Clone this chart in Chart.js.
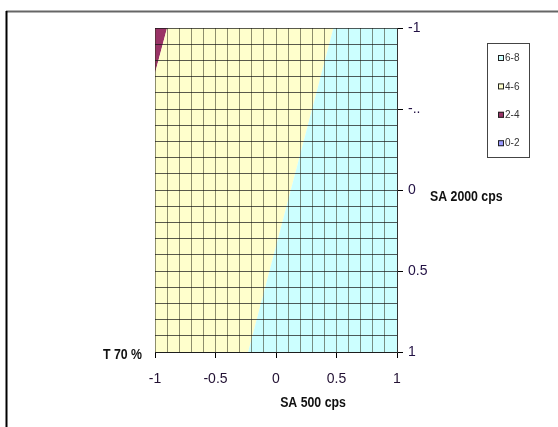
<!DOCTYPE html>
<html>
<head>
<meta charset="utf-8">
<script src="https://cdn.jsdelivr.net/npm/chart.js@4.4.1/dist/chart.umd.min.js"></script>
<style>
    html, body { margin: 0; padding: 0; background: #fff; }
    #wrap { width: 558px; height: 427px; position: relative; }
</style>
</head>
<body>
<div id="wrap"><canvas id="surfaceChart" width="558" height="427"></canvas></div>
<script>
// bands of the contour plot (SA 500 cps on x, SA 2000 cps on y)
var seriesNames = ['6-8', '4-6', '2-4', '0-2'];
var seriesColors = ['#CCFFFF', '#FFFFCC', '#993366', '#9999FF'];

var band68X = [0.475, 1, 1, -0.23];
var band68Y = [-1, -1, 1, 1];
var band46X = [-0.9, 0.475, -0.23, -1, -1];
var band46Y = [-1, -1, 1, 1, -0.72];
var band24X = [-1, -0.9, -1];
var band24Y = [-1, -1, -0.72];
var band02X = [];
var band02Y = [];

var xTicks = [-1, -0.5, 0, 0.5, 1];
var yTickLabels = {'-1': '-1', '-0.5': '-..', '0': '0', '0.5': '0.5', '1': '1'};

function toPoints(xs, ys) {
    return xs.map(function(x, i) { return {x: x, y: ys[i]}; });
}

function isMajor(v) {
    return Math.abs(v * 2 - Math.round(v * 2)) < 1e-6;
}

var bands = [
    {xs: band68X, ys: band68Y},
    {xs: band46X, ys: band46Y},
    {xs: band24X, ys: band24Y},
    {xs: band02X, ys: band02Y}
];

var datasets = bands.map(function(b, i) {
    return {
        label: seriesNames[i],
        data: toPoints(b.xs, b.ys),
        showLine: true,
        fill: 'shape',
        backgroundColor: seriesColors[i],
        borderColor: seriesColors[i],
        borderWidth: 0,
        pointRadius: 0,
        tension: 0
    };
});

// narrow text like the Excel export
function narrowText(ctx, text, x, y, align) {
    ctx.save();
    ctx.translate(x, y);
    ctx.scale(0.88, 1);
    ctx.textAlign = align;
    ctx.fillText(text, 0, 0);
    ctx.restore();
}

// texts and legend box that Excel put in fixed places
var extrasPlugin = {
    id: 'extras',
    afterDraw: function(chart) {
        var ctx = chart.ctx;
        ctx.save();
        // frame lines
        ctx.strokeStyle = '#666';
        ctx.lineWidth = 2;
        ctx.beginPath();
        ctx.moveTo(6, 11.5);
        ctx.lineTo(558, 11.5);
        ctx.stroke();
        ctx.strokeStyle = '#000';
        ctx.beginPath();
        ctx.moveTo(6.5, 11);
        ctx.lineTo(6.5, 427);
        ctx.stroke();

        ctx.fillStyle = '#111';
        ctx.font = 'bold 14px "Liberation Sans", Arial, sans-serif';
        ctx.textBaseline = 'middle';
        narrowText(ctx, 'SA 500 cps', 313, 403, 'center');
        narrowText(ctx, 'SA 2000 cps', 430, 197, 'left');
        narrowText(ctx, 'T 70 %', 103, 355, 'left');

        // legend
        ctx.strokeStyle = '#444';
        ctx.lineWidth = 1;
        ctx.strokeRect(487.5, 43.5, 42, 114);
        ctx.font = '10px "Liberation Sans", Arial, sans-serif';
        ctx.textAlign = 'left';
        seriesNames.forEach(function(name, i) {
            var y = 58 + i * 28.4;
            ctx.fillStyle = seriesColors[i];
            ctx.fillRect(498, y - 3, 6, 6);
            ctx.strokeStyle = '#222';
            ctx.strokeRect(498.5, y - 2.5, 5, 5);
            ctx.fillStyle = '#333';
            ctx.fillText(name, 505, y + 0.5);
        });
        ctx.restore();
    }
};

var ctx = document.getElementById('surfaceChart').getContext('2d');
var surfaceChart = new Chart(ctx, {
    type: 'scatter',
    data: { datasets: datasets },
    options: {
        responsive: false,
        animation: false,
        layout: { padding: { left: 155, top: 28, right: 0, bottom: 0 } },
        plugins: {
            legend: { display: false },
            tooltip: { enabled: false }
        },
        scales: {
            x: {
                type: 'linear',
                min: -1,
                max: 1,
                afterFit: function(scale) { scale.height = 75; },
                afterBuildTicks: function(scale) {
                    var t = [];
                    for (var i = 0; i <= 20; i++) t.push({value: -1 + i * 0.1});
                    scale.ticks = t;
                },
                grid: {
                    z: 1,
                    color: 'rgba(50, 50, 30, 0.55)',
                    lineWidth: 1,
                    tickLength: 6,
                    tickColor: function(c) {
                        return c.tick && isMajor(c.tick.value) ? '#000' : 'rgba(0,0,0,0)';
                    }
                },
                border: { color: '#333', width: 1, z: 1 },
                ticks: {
                    autoSkip: false,
                    maxRotation: 0,
                    padding: 13,
                    color: '#221133',
                    font: { family: '"Liberation Sans", Arial, sans-serif', size: 14 },
                    callback: function(v) {
                        if (!isMajor(v)) return '';
                        var r = Math.round(v * 2) / 2;
                        return xTicks.indexOf(r) >= 0 ? String(r) : '';
                    }
                }
            },
            y: {
                type: 'linear',
                position: 'right',
                reverse: true,
                min: -1,
                max: 1,
                afterFit: function(scale) { scale.width = 161; },
                afterBuildTicks: function(scale) {
                    var t = [];
                    for (var i = 0; i <= 20; i++) t.push({value: -1 + i * 0.1});
                    scale.ticks = t;
                },
                grid: {
                    z: 1,
                    color: 'rgba(20, 20, 20, 0.7)',
                    lineWidth: 1,
                    tickLength: 6,
                    tickColor: function(c) {
                        return c.tick && isMajor(c.tick.value) ? '#000' : 'rgba(0,0,0,0)';
                    }
                },
                border: { color: '#333', width: 1, z: 1 },
                ticks: {
                    autoSkip: false,
                    padding: 5,
                    color: '#221144',
                    font: { family: '"Liberation Sans", Arial, sans-serif', size: 14 },
                    callback: function(v) {
                        if (!isMajor(v)) return '';
                        var r = Math.round(v * 2) / 2;
                        return yTickLabels[String(r)] || '';
                    }
                }
            }
        }
    },
    plugins: [extrasPlugin]
});
</script>
</body>
</html>
